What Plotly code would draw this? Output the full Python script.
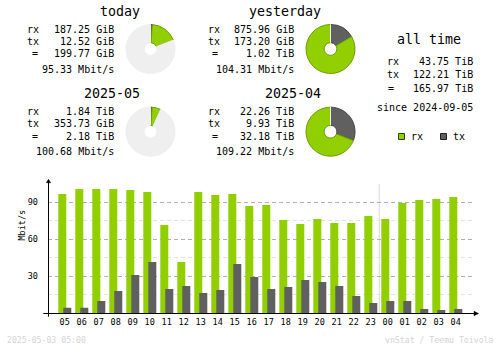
import plotly.graph_objects as go

# ---- hourly traffic (Mbit/s) ----
hours = ["05", "06", "07", "08", "09", "10", "11", "12", "13", "14", "15", "16",
         "17", "18", "19", "20", "21", "22", "23", "00", "01", "02", "03", "04"]
rx_mbit = [96.7, 100.8, 100.8, 100.8, 100.0, 98.4, 71.6, 41.6, 98.4, 96.0, 96.7, 87.0,
           87.8, 75.7, 72.4, 76.5, 73.2, 73.2, 78.9, 76.5, 89.5, 91.9, 92.7, 94.3]
tx_mbit = [4.6, 4.6, 10.0, 18.1, 31.1, 41.6, 19.7, 22.1, 16.5, 18.9, 40.0, 29.5,
           19.7, 21.3, 27.0, 25.4, 22.1, 14.0, 8.3, 10.0, 10.0, 3.5, 2.7, 3.5]
y_ticks = [30, 60, 90]
y_minor = [15, 45, 75]

# ---- period summaries ----
today_rx, today_tx = 187.25, 12.52          # GiB
yest_rx, yest_tx = 875.96, 173.20           # GiB
month_rx, month_tx = 1.84, 353.73 / 1024    # TiB
prev_rx, prev_tx = 22.26, 9.93              # TiB

today_lines = ["187.25 GiB", "12.52 GiB", "199.77 GiB", "95.33 Mbit/s"]
yest_lines = ["875.96 GiB", "173.20 GiB", "1.02 TiB", "104.31 Mbit/s"]
month_lines = ["1.84 TiB", "353.73 GiB", "2.18 TiB", "100.68 Mbit/s"]
prev_lines = ["22.26 TiB", "9.93 TiB", "32.18 TiB", "109.22 Mbit/s"]
alltime_lines = ["43.75 TiB", "122.21 TiB", "165.97 TiB"]
since_text = "since 2024-09-05"

RX = "#92CF00"
TX = "#606060"
RX_EDGE = "#6E9E00"
TX_EDGE = "#454545"
EMPTY = "#EFEFEF"
MONO = "DejaVu Sans Mono"

W, H = 500, 348


def px(x):
    return x / W


def py(y):
    return 1 - y / H


fig = go.Figure()

# ---- bar chart ----
slot = 17.0                     # pixels per hour
x_left, x_right = 48, 473
r0 = -10.3 / slot
r1 = r0 + (x_right - x_left) / slot
y_base, y_top = 313.3, 185.0
unit = 111.0 / 90.0             # pixels per Mbit/s
y_max = (y_base - y_top) / unit

idx = list(range(len(hours)))
fig.add_trace(go.Bar(x=idx, y=rx_mbit, offset=0, width=8 / slot,
                     marker=dict(color=RX, line=dict(width=0)), name="rx",
                     showlegend=False, hoverinfo="skip"))
fig.add_trace(go.Bar(x=idx, y=tx_mbit, offset=5 / slot, width=8 / slot,
                     marker=dict(color=TX, line=dict(width=0)), name="tx",
                     showlegend=False, hoverinfo="skip"))

fig.update_layout(
    barmode="overlay",
    xaxis=dict(domain=[px(x_left), px(x_right)], range=[r0, r1],
               tickmode="array", tickvals=[i + 6.35 / slot for i in idx],
               ticktext=hours, ticks="", showgrid=False, zeroline=False,
               showline=False, tickfont=dict(family=MONO, size=8.5, color="#000"),
               ticklabelstandoff=2),
    yaxis=dict(domain=[py(y_base), py(y_top)], range=[0, y_max],
               tickmode="array", tickvals=y_ticks, ticks="",
               showgrid=True, gridcolor="#B0B0B0", griddash="4px,3px", gridwidth=1,
               minor=dict(tickmode="array", tickvals=y_minor, showgrid=True,
                          gridcolor="#E2E2E2", griddash="4px,3px", gridwidth=1, ticks=""),
               zeroline=False, showline=False,
               tickfont=dict(family=MONO, size=8.5, color="#000"),
               ticklabelstandoff=9),
)

# day change separator
sep = hours.index("00") - 0.12
fig.add_shape(type="line", xref="x", yref="paper", x0=sep, x1=sep,
              y0=py(313), y1=py(184), line=dict(color="#D8D8D8", width=1), layer="below")

# axes with arrows
fig.add_shape(type="line", xref="paper", yref="paper", x0=px(48.5), x1=px(48.5),
              y0=py(316.7), y1=py(182), line=dict(color="#000", width=1))
fig.add_shape(type="line", xref="paper", yref="paper", x0=px(43.3), x1=px(475),
              y0=py(313.5), y1=py(313.5), line=dict(color="#000", width=1))
fig.add_shape(type="path", xref="paper", yref="paper",
              path=f"M {px(46.3)} {py(182.7)} L {px(50.7)} {py(182.7)} L {px(48.5)} {py(179.3)} Z",
              fillcolor="#000", line=dict(color="#000", width=0.5))
fig.add_shape(type="path", xref="paper", yref="paper",
              path=f"M {px(474)} {py(311.3)} L {px(474)} {py(315.7)} L {px(478.5)} {py(313.5)} Z",
              fillcolor="#000", line=dict(color="#000", width=0.5))

fig.add_annotation(x=px(14), y=py(243), xref="paper", yref="paper", text="Mbit/s",
                   textangle=-90, showarrow=False,
                   font=dict(family=MONO, size=8.5, color="#000"))


# ---- pies ----
def add_pie(cx, cy, tx, rx, rest):
    r = 24.5
    fig.add_trace(go.Pie(
        values=[tx, rx, rest], sort=False, direction="clockwise", rotation=0,
        hole=0.26, textinfo="none", hoverinfo="skip", showlegend=False,
        marker=dict(colors=[TX, RX, EMPTY],
                    line=dict(color=[TX_EDGE, RX_EDGE, EMPTY], width=1)),
        domain=dict(x=[px(cx - r), px(cx + r)], y=[py(cy + r), py(cy - r)])))


yest_total = yest_rx + yest_tx
prev_total = prev_rx + prev_tx
add_pie(150.5, 49, today_tx, today_rx, yest_total - today_rx - today_tx)
add_pie(330.5, 49, yest_tx, yest_rx, 0)
add_pie(150.5, 131.7, month_tx, month_rx, prev_total - month_rx - month_tx)
add_pie(330.5, 131.7, prev_tx, prev_rx, 0)


def text(x, y, s, anchor="left", size=10, color="#000"):
    fig.add_annotation(x=px(x), y=py(y), xref="paper", yref="paper", text=s,
                       showarrow=False, xanchor=anchor, yanchor="middle",
                       font=dict(family=MONO, size=size, color=color))


def block(x0, y0, title, lines):
    text(x0 + 117, y0 - 18, title, "right", 13.3)
    text(x0, y0, "rx")
    text(x0, y0 + 12, "tx")
    text(x0 + 9.5, y0 + 25, "=", "center")
    for dy, s in zip([0, 12, 25, 40], lines):
        text(x0 + 90.5, y0 + dy, s, "right")


block(25, 29, "today", today_lines)
block(205.5, 29, "yesterday", yest_lines)
block(25, 111.7, "2025-05", month_lines)
block(205.5, 111.7, "2025-04", prev_lines)

# all time
text(429, 39.3, "all time", "center", 13.3)
text(384.5, 62, "rx")
text(384.5, 74, "tx")
text(390.5, 88, "=", "center")
for dy, s in zip([62, 74, 88], alltime_lines):
    text(474.5, dy, s, "right")
text(474.5, 108, since_text, "right")

# legend
fig.add_shape(type="rect", xref="paper", yref="paper", x0=px(398.5), x1=px(404.5),
              y0=py(139.5), y1=py(133.5), fillcolor=RX, line=dict(color="#2E4200", width=1))
fig.add_shape(type="rect", xref="paper", yref="paper", x0=px(440.5), x1=px(446.5),
              y0=py(139.5), y1=py(133.5), fillcolor=TX, line=dict(color="#202020", width=1))
text(409, 136.3, "rx")
text(451, 136.3, "tx")

# footer
text(5, 340, "2025-05-03 05:00", "left", 8.2, "#D4D4D4")
text(495.5, 340, "vnStat / Teemu Toivola", "right", 8.2, "#D4D4D4")

fig.update_layout(width=W, height=H, margin=dict(l=0, r=0, t=0, b=0),
                  paper_bgcolor="#FFFFFF", plot_bgcolor="#FFFFFF")

fig.write_html("out.html")
